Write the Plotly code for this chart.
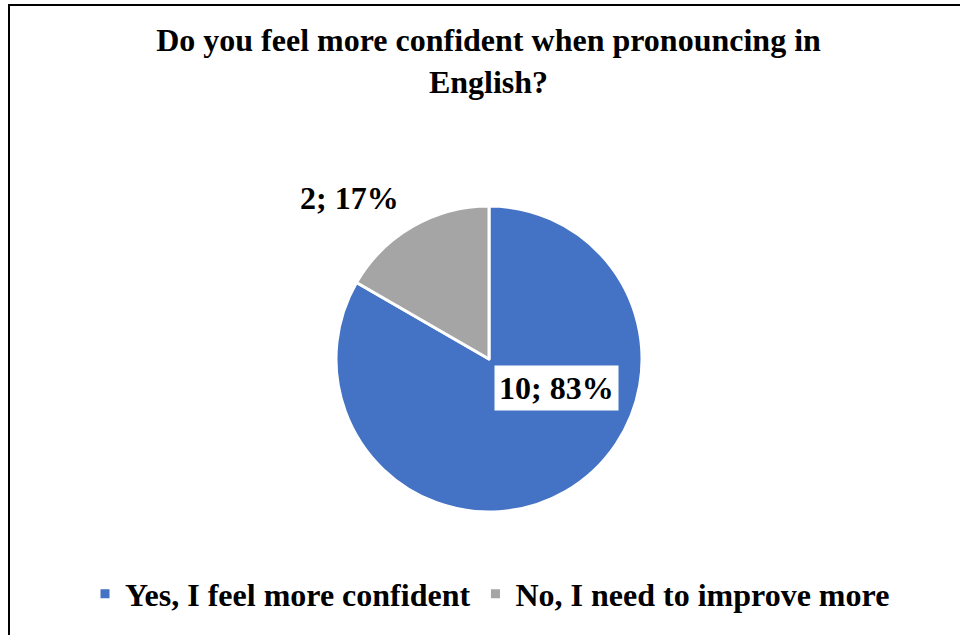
import plotly.graph_objects as go

# Survey answers
categories = ["Yes, I feel more confident", "No, I need to improve more"]
counts = [10, 2]
slice_colors = ["#4472C4", "#A5A5A5"]

W, H = 960, 635
FONT = "Liberation Serif, Times New Roman, serif"

total = sum(counts)
labels = [f"{c}; {round(100 * c / total)}%" for c in counts]


def px(x):
    return x / W


def py(y):
    return (H - y) / H


fig = go.Figure(
    go.Pie(
        labels=categories,
        values=counts,
        sort=False,
        direction="clockwise",
        rotation=0,
        marker=dict(colors=slice_colors, line=dict(color="white", width=3)),
        textinfo="none",
        hoverinfo="label+value+percent",
        domain=dict(x=[px(336), px(642)], y=[py(512), py(206)]),
    )
)

# Data labels: the large slice gets a white box inside, the small one sits outside
fig.add_annotation(
    x=px(556), y=py(387.5), xref="paper", yref="paper",
    text=labels[0], showarrow=False,
    font=dict(family=FONT, size=32, color="black", weight="bold"),
    bgcolor="white", borderpad=4,
)
fig.add_annotation(
    x=px(349.5), y=py(178), xref="paper", yref="paper",
    text=labels[1], showarrow=False,
    font=dict(family=FONT, size=32, color="black", weight="bold"),
)

# Chart frame
fig.add_shape(
    type="rect", xref="paper", yref="paper",
    x0=px(9), x1=px(975), y0=py(650), y1=py(5),
    line=dict(color="black", width=2), fillcolor="rgba(0,0,0,0)",
)

fig.update_layout(
    width=W, height=H,
    margin=dict(l=0, r=0, t=0, b=0),
    paper_bgcolor="white", plot_bgcolor="white",
    title=dict(
        text="Do you feel more confident when pronouncing in<br>English?",
        x=px(488.5), xanchor="center", xref="paper",
        y=1 - 51 / H, yanchor="top", yref="container",
        font=dict(family=FONT, size=32, color="black", weight="bold"),
    ),
    showlegend=True,
    legend=dict(
        orientation="h",
        x=px(490), xanchor="center",
        y=py(594), yanchor="middle",
        font=dict(family=FONT, size=32, color="black", weight="bold"),
        bgcolor="rgba(0,0,0,0)",
    ),
)

fig.write_html("out.html")
